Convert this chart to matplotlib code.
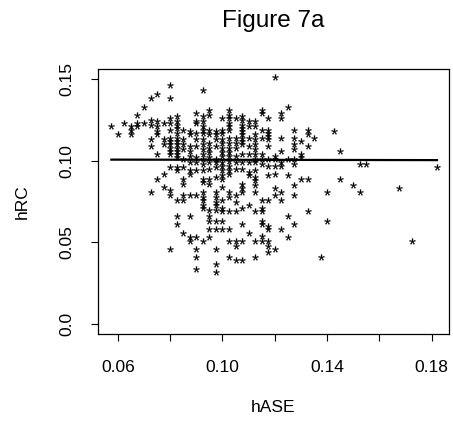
import matplotlib
matplotlib.use("Agg")
import matplotlib.pyplot as plt

plt.rcParams['font.family'] = ['Liberation Sans', 'DejaVu Sans']
plt.rcParams['mathtext.fontset'] = 'custom'
plt.rcParams['mathtext.rm'] = 'Liberation Sans'
plt.rcParams['mathtext.it'] = 'Liberation Sans'

# hASE / hRC pairs, one line per hASE value
hase = [
    0.0575,
    0.06,
    0.0625,
    0.065, 0.065, 0.065,
    0.0675, 0.0675, 0.0675,
    0.07, 0.07,
    0.0725, 0.0725, 0.0725, 0.0725, 0.0725, 0.0725,
    0.075, 0.075, 0.075, 0.075, 0.075, 0.075, 0.075,
    0.0775, 0.0775, 0.0775, 0.0775, 0.0775,
    0.08, 0.08, 0.08, 0.08, 0.08, 0.08, 0.08, 0.08, 0.08, 0.08, 0.08, 0.08, 0.08, 0.08, 0.08,
    0.0825, 0.0825, 0.0825, 0.0825, 0.0825, 0.0825, 0.0825, 0.0825, 0.0825, 0.0825, 0.0825, 0.0825, 0.0825, 0.0825, 0.0825, 0.0825, 0.0825,
    0.085, 0.085, 0.085, 0.085, 0.085, 0.085, 0.085, 0.085, 0.085, 0.085, 0.085,
    0.0875, 0.0875, 0.0875, 0.0875, 0.0875, 0.0875, 0.0875, 0.0875, 0.0875, 0.0875, 0.0875, 0.0875,
    0.09, 0.09, 0.09, 0.09, 0.09, 0.09, 0.09, 0.09, 0.09, 0.09, 0.09, 0.09, 0.09, 0.09,
    0.0925, 0.0925, 0.0925, 0.0925, 0.0925, 0.0925, 0.0925, 0.0925, 0.0925, 0.0925, 0.0925, 0.0925, 0.0925, 0.0925, 0.0925, 0.0925, 0.0925, 0.0925, 0.0925, 0.0925, 0.0925,
    0.095, 0.095, 0.095, 0.095, 0.095, 0.095, 0.095, 0.095, 0.095, 0.095, 0.095, 0.095, 0.095, 0.095, 0.095, 0.095, 0.095,
    0.0975, 0.0975, 0.0975, 0.0975, 0.0975, 0.0975, 0.0975, 0.0975, 0.0975, 0.0975, 0.0975, 0.0975, 0.0975, 0.0975, 0.0975, 0.0975, 0.0975, 0.0975,
    0.10, 0.10, 0.10, 0.10, 0.10, 0.10, 0.10, 0.10, 0.10, 0.10, 0.10, 0.10, 0.10, 0.10, 0.10, 0.10, 0.10, 0.10, 0.10,
    0.1025, 0.1025, 0.1025, 0.1025, 0.1025, 0.1025, 0.1025, 0.1025, 0.1025, 0.1025, 0.1025, 0.1025, 0.1025, 0.1025, 0.1025, 0.1025, 0.1025, 0.1025, 0.1025, 0.1025, 0.1025,
    0.105, 0.105, 0.105, 0.105, 0.105, 0.105, 0.105, 0.105, 0.105, 0.105, 0.105, 0.105, 0.105,
    0.1075, 0.1075, 0.1075, 0.1075, 0.1075, 0.1075, 0.1075, 0.1075, 0.1075, 0.1075, 0.1075, 0.1075, 0.1075, 0.1075, 0.1075, 0.1075, 0.1075, 0.1075, 0.1075,
    0.11, 0.11, 0.11, 0.11, 0.11, 0.11, 0.11, 0.11, 0.11, 0.11,
    0.1125, 0.1125, 0.1125, 0.1125, 0.1125, 0.1125, 0.1125, 0.1125, 0.1125, 0.1125, 0.1125, 0.1125, 0.1125, 0.1125, 0.1125, 0.1125, 0.1125,
    0.115, 0.115, 0.115, 0.115, 0.115, 0.115, 0.115, 0.115, 0.115, 0.115, 0.115, 0.115, 0.115, 0.115,
    0.1175, 0.1175, 0.1175, 0.1175, 0.1175, 0.1175, 0.1175, 0.1175, 0.1175, 0.1175, 0.1175, 0.1175, 0.1175, 0.1175, 0.1175,
    0.12, 0.12, 0.12, 0.12, 0.12, 0.12, 0.12, 0.12,
    0.1225, 0.1225, 0.1225, 0.1225, 0.1225, 0.1225, 0.1225, 0.1225, 0.1225,
    0.125, 0.125, 0.125, 0.125, 0.125,
    0.1275, 0.1275, 0.1275, 0.1275, 0.1275, 0.1275, 0.1275, 0.1275, 0.1275,
    0.13, 0.13, 0.13, 0.13,
    0.1325, 0.1325, 0.1325, 0.1325, 0.1325,
    0.135,
    0.1375,
    0.14, 0.14,
    0.1425,
    0.145, 0.145,
    0.15,
    0.1525, 0.1525,
    0.155,
    0.1675,
    0.1725,
    0.182,
]
hrc = [
    0.121,
    0.116,
    0.123,
    0.121, 0.119, 0.116,
    0.128, 0.123, 0.121,
    0.133, 0.123,
    0.138, 0.125, 0.122, 0.113, 0.109, 0.081,
    0.141, 0.124, 0.121, 0.118, 0.116, 0.104, 0.089,
    0.123, 0.113, 0.110, 0.092, 0.084,
    0.146, 0.138, 0.126, 0.123, 0.119, 0.114, 0.112, 0.110, 0.108, 0.106, 0.104, 0.096, 0.082, 0.079, 0.046,
    0.127, 0.124, 0.122, 0.120, 0.117, 0.114, 0.112, 0.110, 0.108, 0.106, 0.104, 0.102, 0.096, 0.094, 0.076, 0.066, 0.061,
    0.119, 0.113, 0.110, 0.107, 0.101, 0.096, 0.089, 0.086, 0.079, 0.076, 0.056,
    0.118, 0.116, 0.109, 0.106, 0.103, 0.099, 0.094, 0.092, 0.079, 0.066, 0.053, 0.051,
    0.129, 0.124, 0.123, 0.117, 0.113, 0.109, 0.102, 0.099, 0.094, 0.079, 0.053, 0.046, 0.041, 0.034,
    0.143, 0.127, 0.124, 0.121, 0.119, 0.117, 0.113, 0.110, 0.107, 0.104, 0.101, 0.098, 0.094, 0.089, 0.087, 0.081, 0.078, 0.076, 0.073, 0.071, 0.051,
    0.131, 0.128, 0.119, 0.116, 0.111, 0.108, 0.105, 0.102, 0.099, 0.095, 0.089, 0.086, 0.070, 0.066, 0.063, 0.058, 0.053,
    0.118, 0.116, 0.113, 0.109, 0.101, 0.099, 0.096, 0.090, 0.081, 0.078, 0.075, 0.073, 0.070, 0.063, 0.058, 0.046, 0.037, 0.032,
    0.126, 0.119, 0.117, 0.113, 0.111, 0.108, 0.105, 0.103, 0.099, 0.097, 0.094, 0.091, 0.089, 0.084, 0.076, 0.071, 0.069, 0.063, 0.058,
    0.131, 0.128, 0.126, 0.123, 0.121, 0.119, 0.114, 0.111, 0.108, 0.105, 0.103, 0.100, 0.097, 0.094, 0.092, 0.081, 0.078, 0.069, 0.058, 0.051, 0.041,
    0.126, 0.114, 0.111, 0.108, 0.103, 0.099, 0.095, 0.079, 0.075, 0.069, 0.051, 0.048, 0.039,
    0.127, 0.125, 0.122, 0.120, 0.118, 0.116, 0.114, 0.112, 0.110, 0.104, 0.099, 0.095, 0.086, 0.083, 0.081, 0.071, 0.061, 0.051, 0.039,
    0.124, 0.121, 0.114, 0.109, 0.104, 0.099, 0.093, 0.091, 0.073, 0.056,
    0.124, 0.121, 0.116, 0.113, 0.110, 0.107, 0.104, 0.101, 0.099, 0.094, 0.090, 0.088, 0.085, 0.081, 0.069, 0.051, 0.041,
    0.131, 0.129, 0.119, 0.114, 0.104, 0.101, 0.098, 0.076, 0.071, 0.069, 0.063, 0.061, 0.054, 0.051,
    0.126, 0.119, 0.117, 0.115, 0.113, 0.109, 0.101, 0.097, 0.091, 0.076, 0.060, 0.058, 0.051, 0.048, 0.044,
    0.151, 0.103, 0.101, 0.097, 0.092, 0.083, 0.079, 0.046,
    0.129, 0.126, 0.114, 0.106, 0.099, 0.097, 0.081, 0.076, 0.058,
    0.133, 0.101, 0.091, 0.066, 0.053,
    0.119, 0.114, 0.110, 0.107, 0.101, 0.098, 0.085, 0.079, 0.061,
    0.112, 0.104, 0.102, 0.089,
    0.119, 0.116, 0.109, 0.089, 0.069,
    0.114,
    0.041,
    0.081, 0.063,
    0.118,
    0.106, 0.089,
    0.085,
    0.098, 0.081,
    0.098,
    0.083,
    0.051,
    0.096,
]

# fitted line (nearly flat)
fit_x = [0.0575, 0.182]
fit_y = [0.1006, 0.1003]

xticks = [0.06, 0.08, 0.10, 0.12, 0.14, 0.16, 0.18]
xticklabels = ['0.06', '', '0.10', '', '0.14', '', '0.18']
yticks = [0.0, 0.05, 0.10, 0.15]
yticklabels = ['0.0', '0.05', '0.10', '0.15']

fig = plt.figure(figsize=(4.53, 4.23), dpi=100)
ax = fig.add_axes([98/453, 1-334/423, 351/453, 265/423])

ax.scatter(hase, hrc, marker=r'$*$', s=19, c='black', linewidths=0.15, edgecolors='black')
ax.plot(fit_x, fit_y, color='black', lw=1.6)

ax.set_xlim(0.0524, 0.1866)
ax.set_ylim(-0.006, 0.156)
ax.set_xticks(xticks)
ax.set_xticklabels(xticklabels)
ax.set_yticks(yticks)
ax.set_yticklabels(yticklabels, rotation=90, va='center')
ax.tick_params(axis='both', length=5, width=0.8, labelsize=12.5, color='black')
ax.tick_params(axis='x', pad=14)
ax.tick_params(axis='y', pad=12)
for sp in ax.spines.values():
    sp.set_linewidth(0.9)

ax.set_xlabel('hASE', fontsize=12.5)
ax.xaxis.set_label_coords(0.5, -0.279)
ax.xaxis.label.set_va('center')
ax.set_ylabel('hRC', fontsize=12.5)
ax.yaxis.set_label_coords(-0.2165, 0.5)
ax.yaxis.label.set_va('center')
ax.set_title('Figure 7a', fontsize=17.5, y=1.158, pad=0)

fig.savefig('out.png', dpi=100)
